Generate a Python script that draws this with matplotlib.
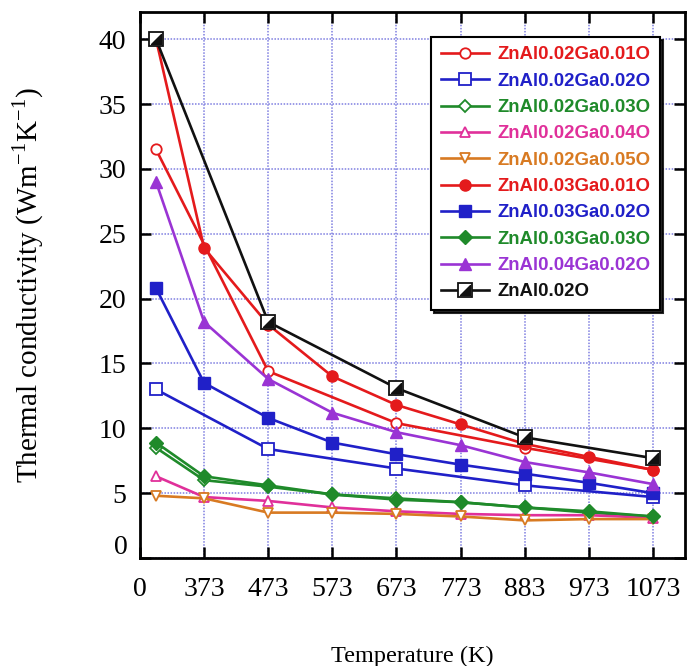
import matplotlib
matplotlib.use("Agg")
import matplotlib.pyplot as plt
from matplotlib.path import Path
from matplotlib.legend_handler import HandlerTuple

# ---------------- data ----------------
temps_all = [298, 373, 473, 573, 673, 773, 873, 973, 1073]
temps_open = [298, 473, 673, 873, 1073]
xtick_pos = [273, 373, 473, 573, 673, 773, 873, 973, 1073]
xtick_labels = ["0", "373", "473", "573", "673", "773", "883", "973", "1073"]
ytick_pos = [0, 5, 10, 15, 20, 25, 30, 35, 40]

al002ga001 = [31.5, 14.4, 10.4, 8.5, 6.8]
al002ga002 = [13.0, 8.4, 6.9, 5.6, 4.7]
al002ga003 = [8.5, 6.0, 5.5, 4.9, 4.6, 4.3, 3.9, 3.5, 3.2]
al002ga004 = [6.3, 4.7, 4.4, 3.9, 3.6, 3.4, 3.3, 3.3, 3.1]
al002ga005 = [4.8, 4.6, 3.5, 3.5, 3.4, 3.2, 2.9, 3.0, 3.0]
al003ga001 = [40.0, 23.9, 18.0, 14.0, 11.8, 10.3, 8.8, 7.8, 6.8]
al003ga002 = [20.8, 13.5, 10.8, 8.9, 8.0, 7.2, 6.5, 5.8, 5.0]
al003ga003 = [8.9, 6.3, 5.6, 4.9, 4.5, 4.3, 3.9, 3.6, 3.2]
al004ga002 = [29.0, 18.2, 13.8, 11.2, 9.7, 8.7, 7.4, 6.6, 5.7]
al002 = [40.0, 18.2, 13.1, 9.3, 7.7]

# ---------------- style ----------------
RED = "#e41a1c"
BLUE = "#2020c8"
GREEN = "#1f8a2a"
PINK = "#e0309a"
ORANGE = "#d87a22"
PURPLE = "#9a34d4"
BLACK = "#111111"

plt.rcParams["font.family"] = ["Liberation Serif", "DejaVu Serif"]

fig = plt.figure(figsize=(6.93, 6.66), dpi=100)
ax = fig.add_axes([140 / 693, (666 - 558) / 666, 545 / 693, 546 / 666])

lw = 1.9
series = [
    ("ZnAl0.02Ga0.01O", temps_open, al002ga001, RED, "o", "none", 7.5),
    ("ZnAl0.02Ga0.02O", temps_open, al002ga002, BLUE, "s", "none", 8.5),
    ("ZnAl0.02Ga0.03O", temps_all, al002ga003, GREEN, "D", "none", 6.5),
    ("ZnAl0.02Ga0.04O", temps_all, al002ga004, PINK, "^", "none", 7.5),
    ("ZnAl0.02Ga0.05O", temps_all, al002ga005, ORANGE, "v", "none", 7.5),
    ("ZnAl0.03Ga0.01O", temps_all, al003ga001, RED, "o", "full", 8),
    ("ZnAl0.03Ga0.02O", temps_all, al003ga002, BLUE, "s", "full", 8.5),
    ("ZnAl0.03Ga0.03O", temps_all, al003ga003, GREEN, "D", "full", 7),
    ("ZnAl0.04Ga0.02O", temps_all, al004ga002, PURPLE, "^", "full", 8.5),
]

handles = []
labels = []
for name, xs, ys, c, m, fill, ms in series:
    if fill == "none":
        h, = ax.plot(xs, ys, color=c, lw=lw, marker=m, ms=ms, mfc="white",
                     mec=c, mew=1.3, zorder=3)
    else:
        h, = ax.plot(xs, ys, color=c, lw=lw, marker=m, ms=ms, mfc=c,
                     mec=c, zorder=3)
    handles.append(h)
    labels.append((name, c))

# black series with diagonal half-filled square
tri = Path([(1, 1), (1, -1), (-1, -1), (1, 1)],
           [Path.MOVETO, Path.LINETO, Path.LINETO, Path.CLOSEPOLY])
hb1, = ax.plot(temps_open, al002, color=BLACK, lw=lw, marker="s", ms=9.5,
               mfc="white", mec=BLACK, mew=1.3, zorder=4)
hb2, = ax.plot(temps_open, al002, color=BLACK, lw=0, marker=tri, ms=7,
               mfc=BLACK, mec=BLACK, zorder=5)
handles.append((hb1, hb2))
labels.append(("ZnAl0.02O", BLACK))

# ---------------- axes ----------------
ax.set_xlim(273, 1123)
ax.set_ylim(0, 42.1)
ax.set_xticks(xtick_pos)
ax.set_xticklabels(xtick_labels)
ax.set_yticks(ytick_pos)
ax.set_yticklabels([""] + [str(v) for v in ytick_pos[1:]])
ax.annotate("0", xy=(0, 0), xycoords=("axes fraction", "data"),
            xytext=(-12, 11), textcoords="offset pixels",
            ha="right", va="center", fontsize=20)

ax.tick_params(axis="both", which="major", direction="in", length=8,
               width=1.8, labelsize=20, top=True, right=True)
ax.tick_params(axis="x", pad=14)
ax.tick_params(axis="y", pad=10)
for s in ax.spines.values():
    s.set_linewidth(2)
    s.set_color("black")

ax.grid(True, linestyle=(0, (1, 1)), color="#7070dd", lw=1.1, alpha=0.9)
ax.set_axisbelow(True)

ax.set_xlabel("Temperature (K)", fontsize=17.5, labelpad=31)
ax.set_ylabel("Thermal conductivity (Wm$^{\\mathregular{-1}}$K$^{\\mathregular{-1}}$)",
              fontsize=21, labelpad=38)

leg = ax.legend(handles, [l[0] for l in labels],
                handler_map={tuple: HandlerTuple(ndivide=1)},
                loc="upper right", bbox_to_anchor=(0.954, 0.954),
                borderaxespad=0, frameon=True, fancybox=False,
                edgecolor="black", framealpha=1,
                shadow={"color": "black", "alpha": 0.85},
                handlelength=2.6, handletextpad=0.45, labelspacing=0.5,
                borderpad=0.5,
                prop={"family": ["Liberation Sans", "DejaVu Sans"],
                      "weight": "bold", "size": 13.4})
leg.get_frame().set_linewidth(1.5)
for txt, (name, c) in zip(leg.get_texts(), labels):
    txt.set_color(c)

fig.savefig("out.png", dpi=100)
